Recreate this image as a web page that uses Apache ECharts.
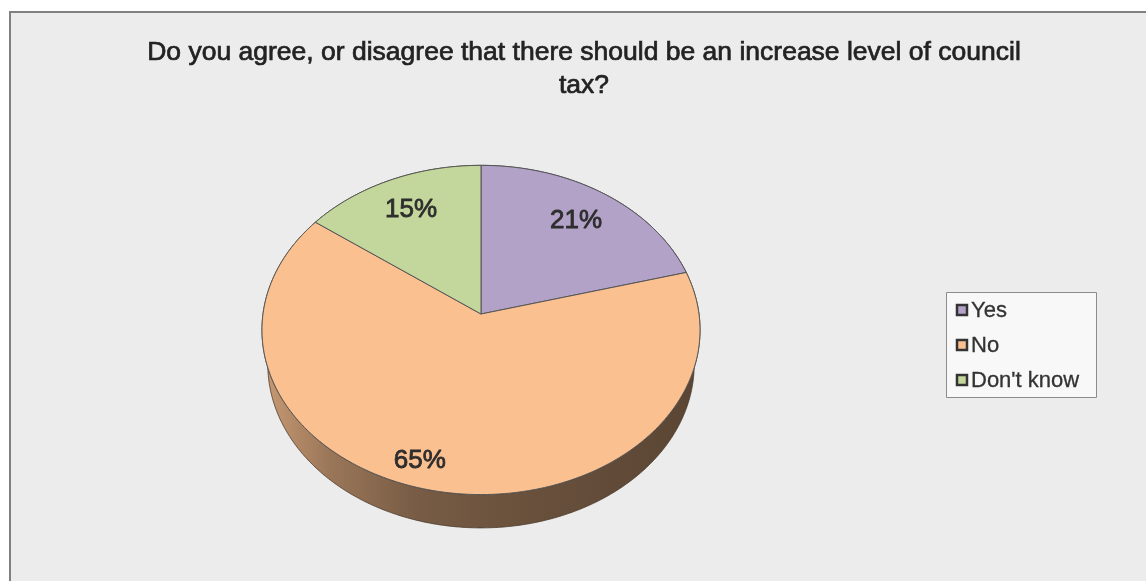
<!DOCTYPE html>
<html>
<head>
<meta charset="utf-8">
<script src="https://cdn.jsdelivr.net/npm/echarts@6/dist/echarts.min.js"></script>
<style>
  html, body { margin: 0; padding: 0; background: #ffffff; }
  #chart { width: 1146px; height: 581px; }
</style>
</head>
<body>
<div id="chart"></div>
<script>
// ---- chart content ----
const titleText = 'Do you agree, or disagree that there should be an increase level of council\ntax?';
const categories = ['Yes', 'No', "Don't know"];
const shares = [21, 65, 15];               // percent of respondents
const sliceColors = ['#B3A2C7', '#FAC090', '#C3D69B'];

// ---- view of the tilted, slightly perspective disc ----
const FONT = '"Liberation Sans", Arial, sans-serif';
const view = {
  cx: 481, cy: 314,      // screen position of the disc centre
  a: 218,                // horizontal radius in px
  sin: 0.748, cos: 0.664,// elevation of the viewer
  rd: 0.146,             // radius / camera distance
  thick: 0.248,          // disc thickness (in radii)
  labelR: 0.76           // radial position of value labels
};
// extra pixel nudge of individual value labels
const labelNudge = { 'No': [-28, 16] };

function project(X, Z, H) {
  const depth = 1 + view.rd * (Z * view.cos - H * view.sin);
  return [view.cx + view.a * X / depth,
          view.cy - view.a * (Z * view.sin + H * view.cos) / depth];
}
// angle measured clockwise from the far point (12 o'clock) of the disc
function rimPoint(ang, r, H) {
  return project(r * Math.sin(ang), r * Math.cos(ang), H);
}
function arc(a0, a1, r, H) {
  const n = Math.max(2, Math.ceil(Math.abs(a1 - a0) / 0.01));
  const pts = [];
  for (let i = 0; i <= n; i++) pts.push(rimPoint(a0 + (a1 - a0) * i / n, r, H));
  return pts;
}
const total = shares.reduce((s, v) => s + v, 0);
function sliceAngles(idx, value) {
  let before = 0;
  for (let i = 0; i < idx; i++) before += shares[i];
  return [before / total * Math.PI * 2, (before + value) / total * Math.PI * 2];
}
function shade(hex, f) {
  const n = parseInt(hex.slice(1), 16);
  const c = [(n >> 16) & 255, (n >> 8) & 255, n & 255].map(v => Math.round(v * f));
  return 'rgb(' + c.join(',') + ')';
}

const sliceData = categories.map((name, i) => ({ name: name, value: shares[i] }));

// outer wall of each slice, lit from the left
function renderWall(params, api) {
  const idx = params.dataIndex;
  const [a0, a1] = sliceAngles(idx, api.value(0));
  const top = arc(a0, a1, 1, 0);
  const bottom = arc(a1, a0, 1, -view.thick);
  const base = sliceColors[idx];
  return {
    type: 'polygon',
    shape: { points: top.concat(bottom) },
    style: {
      fill: {
        type: 'linear', global: true,
        x: view.cx - view.a, y: 0, x2: view.cx + view.a, y2: 0,
        colorStops: [
          { offset: 0, color: shade(base, 0.80) },
          { offset: 0.15, color: shade(base, 0.62) },
          { offset: 0.35, color: shade(base, 0.48) },
          { offset: 0.6, color: shade(base, 0.42) },
          { offset: 1, color: shade(base, 0.36) }
        ]
      },
      stroke: shade(base, 0.3),
      lineWidth: 0.8
    }
  };
}

// top face of each slice with its value label
function renderTop(params, api) {
  const idx = params.dataIndex;
  const value = api.value(0);
  const [a0, a1] = sliceAngles(idx, value);
  const pts = [project(0, 0, 0)].concat(arc(a0, a1, 1, 0));
  const mid = (a0 + a1) / 2;
  const lp = rimPoint(mid, view.labelR, 0);
  const nudge = labelNudge[categories[idx]] || [0, 0];
  return {
    type: 'group',
    children: [
      {
        type: 'polygon',
        shape: { points: pts },
        style: { fill: sliceColors[idx], stroke: '#555555', lineWidth: 1, lineJoin: 'round' }
      },
      {
        type: 'text',
        x: lp[0] + nudge[0], y: lp[1] + nudge[1],
        style: {
          text: value + '%',
          fill: '#2d2d2d',
          stroke: '#2d2d2d',
          lineWidth: 0.8,
          font: '26px ' + FONT,
          align: 'center',
          verticalAlign: 'middle'
        }
      }
    ]
  };
}

// legend drawn from the categories
const legendItems = [];
legendItems.push({
  type: 'rect',
  shape: { x: 946.5, y: 292.5, width: 150, height: 105 },
  style: { fill: '#f8f8f8', stroke: '#8c8c8c', lineWidth: 1 }
});
categories.forEach((name, i) => {
  legendItems.push({
    type: 'rect',
    shape: { x: 957, y: 305 + i * 35, width: 10, height: 10 },
    style: { fill: sliceColors[i], stroke: '#333333', lineWidth: 2.5 }
  });
  legendItems.push({
    type: 'text',
    x: 971, y: 311 + i * 35,
    style: {
      text: name, fill: '#333333', stroke: '#333333', lineWidth: 0.3,
      font: '22px ' + FONT, verticalAlign: 'middle'
    }
  });
});

const chart = echarts.init(document.getElementById('chart'), null, { renderer: 'canvas' });
chart.setOption({
  animation: false,
  backgroundColor: '#ffffff',
  graphic: [
    {
      type: 'rect', z: -10,
      shape: { x: 10, y: 12, width: 1200, height: 620 },
      style: { fill: '#ececec', stroke: '#808080', lineWidth: 2 }
    },
    {
      type: 'text', z: 100,
      x: 584, y: 36,
      style: {
        text: titleText, fill: '#222222', stroke: '#222222', lineWidth: 0.7,
        font: '26.5px ' + FONT,
        align: 'center', verticalAlign: 'top', lineHeight: 33
      }
    },
    { type: 'group', z: 100, children: legendItems }
  ],
  series: [
    {
      type: 'custom', name: 'wall', coordinateSystem: 'none', z: 2,
      data: sliceData, renderItem: renderWall, silent: true
    },
    {
      type: 'custom', name: 'top', coordinateSystem: 'none', z: 3,
      data: sliceData, renderItem: renderTop
    }
  ]
});
</script>
</body>
</html>
